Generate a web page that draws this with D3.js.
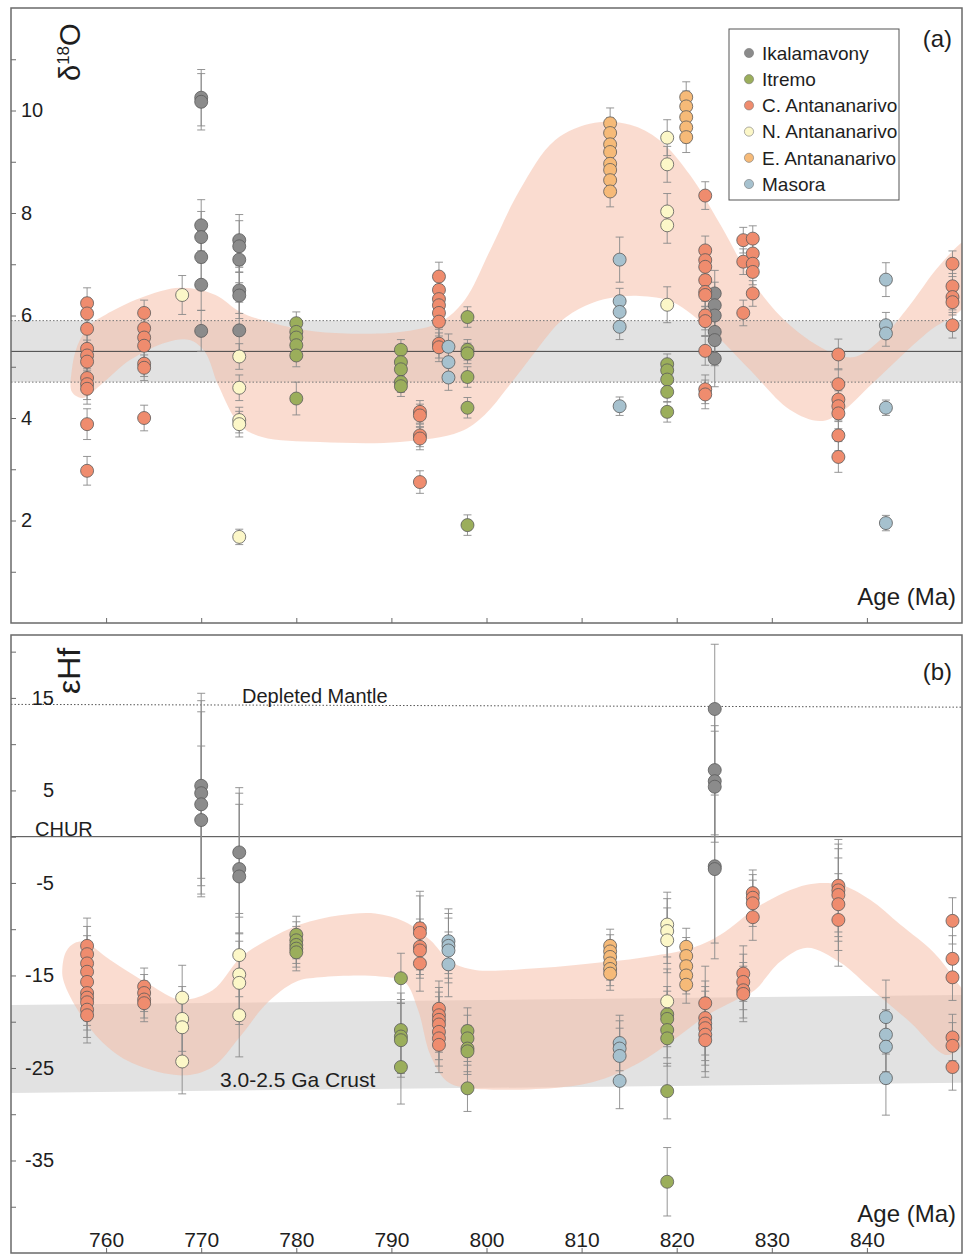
<!DOCTYPE html>
<html>
<head>
<meta charset="utf-8">
<script src="https://cdn.jsdelivr.net/npm/d3@7"></script>
<style>
  body { margin: 0; background: #fff; }
  svg text { font-family: "Liberation Sans", Arial, Helvetica, sans-serif; fill: #1e1e1e; }
</style>
</head>
<body>
<svg id="chart" width="965" height="1254"></svg>
<script>
// ---------- series ----------
const seriesNames  = ["Ikalamavony", "Itremo", "C. Antananarivo", "N. Antananarivo", "E. Antananarivo", "Masora"];
const seriesColors = ["#8b8b8b", "#9bae5b", "#ef8c6e", "#fcf7c8", "#f6ba78", "#a6c1ce"];

// ---------- panel (a): δ18O, rows are [age (Ma), δ18O, ± error] ----------
const ikalamavonyO = [
  [770, 10.25, 0.55], [770, 10.17, 0.55], [770, 7.76, 0.5], [770, 7.53, 0.5], [770, 7.14, 0.5], [770, 6.60, 0.5], [770, 5.70, 0.4],
  [774, 7.47, 0.5], [774, 7.35, 0.5], [774, 7.09, 0.45], [774, 6.49, 0.45], [774, 6.39, 0.45], [774, 5.71, 0.55],
  [824, 6.43, 0.45], [824, 6.20, 0.45], [824, 6.00, 0.45], [824, 5.68, 0.5], [824, 5.52, 0.5], [824, 5.16, 0.55]
];
const itremoO = [
  [780, 5.85, 0.22], [780, 5.68, 0.22], [780, 5.57, 0.22], [780, 5.42, 0.22], [780, 5.22, 0.22], [780, 4.38, 0.32],
  [791, 5.33, 0.2], [791, 5.09, 0.2], [791, 4.95, 0.2], [791, 4.70, 0.2], [791, 4.62, 0.2],
  [798, 5.97, 0.2], [798, 5.33, 0.2], [798, 5.26, 0.2], [798, 4.80, 0.2], [798, 4.20, 0.2], [798, 1.91, 0.2],
  [819, 5.05, 0.2], [819, 4.93, 0.2], [819, 4.75, 0.2], [819, 4.51, 0.2], [819, 4.12, 0.2]
];
const cAntananarivoO = [
  [758, 6.24, 0.3], [758, 6.04, 0.3], [758, 5.74, 0.3], [758, 5.35, 0.3], [758, 5.22, 0.3], [758, 5.10, 0.3],
  [758, 4.78, 0.3], [758, 4.66, 0.3], [758, 4.57, 0.3], [758, 3.88, 0.3], [758, 2.97, 0.28],
  [764, 6.05, 0.25], [764, 5.75, 0.25], [764, 5.57, 0.25], [764, 5.41, 0.25], [764, 5.06, 0.25], [764, 4.98, 0.25], [764, 4.00, 0.25],
  [793, 4.12, 0.22], [793, 4.05, 0.22], [793, 3.66, 0.22], [793, 3.60, 0.22], [793, 2.75, 0.22],
  [795, 6.76, 0.28], [795, 6.50, 0.28], [795, 6.32, 0.28], [795, 6.20, 0.28], [795, 6.05, 0.28], [795, 5.88, 0.28], [795, 5.45, 0.28], [795, 5.38, 0.28],
  [823, 8.34, 0.27], [823, 7.27, 0.28], [823, 7.08, 0.28], [823, 6.95, 0.28], [823, 6.69, 0.28], [823, 6.46, 0.28],
  [823, 6.40, 0.28], [823, 6.00, 0.28], [823, 5.89, 0.28], [823, 5.31, 0.28], [823, 4.56, 0.28], [823, 4.46, 0.28],
  [827, 7.47, 0.25], [827, 7.05, 0.25], [827, 6.05, 0.25],
  [828, 7.50, 0.25], [828, 7.21, 0.25], [828, 7.01, 0.25], [828, 6.85, 0.25], [828, 6.43, 0.25],
  [837, 5.24, 0.3], [837, 4.66, 0.3], [837, 4.36, 0.3], [837, 4.23, 0.3], [837, 4.09, 0.3], [837, 3.66, 0.3], [837, 3.24, 0.3],
  [849, 7.01, 0.25], [849, 6.57, 0.25], [849, 6.36, 0.25], [849, 6.26, 0.25], [849, 5.81, 0.25]
];
const nAntananarivoO = [
  [768, 6.40, 0.38],
  [774, 5.20, 0.25], [774, 4.59, 0.25], [774, 3.96, 0.25], [774, 3.88, 0.25], [774, 1.68, 0.15],
  [819, 9.47, 0.35], [819, 8.95, 0.35], [819, 8.03, 0.35], [819, 7.76, 0.35], [819, 6.21, 0.35]
];
const eAntananarivoO = [
  [813, 9.75, 0.3], [813, 9.56, 0.3], [813, 9.34, 0.3], [813, 9.19, 0.3], [813, 8.96, 0.3], [813, 8.84, 0.3], [813, 8.64, 0.3], [813, 8.42, 0.3],
  [821, 10.26, 0.3], [821, 10.08, 0.3], [821, 9.87, 0.3], [821, 9.67, 0.3], [821, 9.48, 0.3]
];
const masoraO = [
  [796, 5.39, 0.25], [796, 5.09, 0.25], [796, 4.79, 0.25],
  [814, 7.09, 0.44], [814, 6.28, 0.25], [814, 6.07, 0.25], [814, 5.78, 0.25], [814, 4.23, 0.18],
  [842, 6.70, 0.33], [842, 5.81, 0.25], [842, 5.65, 0.25], [842, 4.20, 0.15], [842, 1.95, 0.15]
];

// ---------- panel (b): εHf, rows are [age (Ma), εHf, ± error] ----------
const ikalamavonyHf = [
  [770, 5.5, 10], [770, 4.7, 10], [770, 3.5, 10], [770, 1.8, 8],
  [774, -1.7, 7], [774, -3.5, 7], [774, -4.3, 9],
  [824, 13.8, 7], [824, 7.2, 7], [824, 6.0, 6], [824, 5.4, 6], [824, -3.2, 10], [824, -3.5, 8]
];
const itremoHf = [
  [780, -10.6, 2], [780, -11.2, 2], [780, -11.7, 2], [780, -12.1, 2], [780, -12.5, 2],
  [791, -15.3, 2.7], [791, -20.9, 4], [791, -21.6, 4], [791, -22.0, 4], [791, -24.9, 4],
  [798, -21.0, 2.5], [798, -21.8, 2.5], [798, -22.9, 2.5], [798, -23.2, 2.5], [798, -27.2, 2.5],
  [819, -19.2, 3], [819, -19.7, 3], [819, -20.9, 3], [819, -21.8, 3], [819, -27.5, 3], [819, -37.3, 3.7]
];
const cAntananarivoHf = [
  [758, -11.8, 3], [758, -12.7, 3], [758, -13.7, 3], [758, -14.6, 3], [758, -15.7, 3],
  [758, -16.9, 3], [758, -17.4, 3], [758, -17.9, 3], [758, -18.7, 3], [758, -19.3, 3],
  [764, -16.2, 2], [764, -16.9, 2], [764, -17.6, 2], [764, -18.0, 2],
  [793, -9.9, 4], [793, -10.4, 4], [793, -11.9, 3], [793, -12.3, 3], [793, -13.7, 3],
  [795, -18.6, 3], [795, -19.3, 3], [795, -19.8, 3], [795, -20.3, 3], [795, -21.1, 3], [795, -21.8, 3], [795, -22.5, 3],
  [823, -18.0, 4], [823, -19.6, 4], [823, -20.2, 4], [823, -20.7, 4], [823, -21.4, 4], [823, -22.0, 4],
  [827, -14.8, 3], [827, -15.7, 3], [827, -16.6, 3], [827, -17.0, 3],
  [828, -6.1, 2.5], [828, -6.6, 2.5], [828, -7.2, 2.5], [828, -8.7, 2.5],
  [837, -5.3, 5], [837, -5.8, 5], [837, -6.3, 5], [837, -7.3, 5], [837, -9.0, 5],
  [849, -9.1, 2.5], [849, -13.2, 2.5], [849, -15.2, 2.5], [849, -21.7, 2.5], [849, -22.6, 2.5], [849, -24.9, 2.5]
];
const nAntananarivoHf = [
  [768, -17.4, 3.5], [768, -19.7, 3.5], [768, -20.6, 3.5], [768, -24.3, 3.5],
  [774, -12.8, 4.5], [774, -14.9, 4.5], [774, -15.8, 4.5], [774, -19.3, 4.5],
  [819, -9.5, 3.5], [819, -10.2, 3.5], [819, -11.2, 3.5], [819, -17.8, 3.5]
];
const eAntananarivoHf = [
  [813, -11.8, 1.8], [813, -12.4, 1.8], [813, -13.0, 1.8], [813, -13.7, 1.8], [813, -14.3, 1.8], [813, -14.8, 1.8],
  [821, -11.9, 2], [821, -12.9, 2], [821, -14.0, 2], [821, -15.0, 2], [821, -16.0, 2]
];
const masoraHf = [
  [796, -11.3, 3.5], [796, -11.8, 3.5], [796, -12.3, 3.5], [796, -13.8, 3.5],
  [814, -22.3, 3], [814, -22.9, 3], [814, -23.7, 3], [814, -26.4, 3],
  [842, -19.5, 4], [842, -21.4, 4], [842, -22.7, 4], [842, -26.1, 4]
];

// ---------- reference envelopes (age, value) ----------
const envelopeO = [
  [756.4, 4.94], [757.0, 5.42], [758.3, 5.81], [759.9, 6.01], [763.6, 6.34], [767.8, 6.54], [771.5, 6.40],
  [774.1, 6.07], [777.2, 5.87], [782.5, 5.68], [790.9, 5.68], [795.1, 5.87], [797.7, 6.30], [800.4, 7.28],
  [803.5, 8.45], [807.2, 9.42], [811.4, 9.76], [815.1, 9.72], [818.2, 9.42], [821.4, 8.74], [824.6, 7.77],
  [828.2, 6.60], [831.9, 5.81], [836.1, 5.29], [838.7, 5.19], [841.4, 5.52], [844.5, 6.20], [847.7, 6.99],
  [850.5, 7.45], [850.5, 6.25],
  [846.3, 5.66], [840.6, 4.68], [837.2, 4.10], [835.1, 3.94], [831.9, 4.16], [827.7, 4.94], [823.5, 5.72],
  [819.6, 6.26], [816.1, 6.38], [813.0, 6.34], [810.4, 6.19], [807.7, 5.87], [805.1, 5.29], [802.2, 4.59],
  [799.8, 4.06], [797.2, 3.73], [790.9, 3.53], [782.5, 3.53], [776.4, 3.63], [774.1, 3.86], [771.8, 4.64],
  [770.4, 5.29], [768.8, 5.52], [766.4, 5.48], [762.5, 5.13], [759.4, 4.64], [757.5, 4.39], [756.4, 4.51]
];
const envelopeHf = [
  [755.4, -14.2], [755.8, -12.4], [756.7, -11.5], [757.8, -11.4], [760.4, -13.3], [764.6, -16.0], [767.8, -17.6],
  [771.2, -16.6], [774.1, -13.1], [776.9, -11.2], [780.4, -9.5], [784.6, -8.5], [788.3, -8.3], [791.4, -9.2],
  [794.1, -11.2], [796.2, -13.5], [798.8, -14.4], [805.6, -14.2], [811.9, -13.6], [816.1, -13.1], [821.7, -12.0],
  [824.6, -10.6], [828.8, -7.4], [833.7, -5.2], [837.2, -5.2], [840.3, -6.8], [843.5, -9.5], [847.0, -12.5],
  [849.3, -15.5], [850.5, -17.5], [850.0, -22.5], [848.4, -23.6],
  [844.5, -20.0], [840.6, -16.6], [837.2, -13.6], [833.7, -12.0], [830.9, -13.5], [828.2, -16.6], [826.7, -17.4],
  [823.2, -19.3], [819.6, -22.0], [816.1, -24.4], [811.9, -26.3], [807.7, -27.1], [798.3, -27.2], [795.9, -26.5],
  [794.1, -23.6], [792.8, -18.7], [791.4, -15.7], [788.8, -15.1], [782.5, -15.2], [779.9, -15.7], [776.9, -18.0],
  [774.1, -21.6], [771.2, -24.9], [768.1, -25.8], [762.8, -24.5], [759.4, -22.0], [756.7, -18.2], [755.5, -15.5]
];
const mantleO = { mean: 5.3, low: 4.7, high: 5.9 };
const crustBand = [[750, -18.2], [850, -17.1], [850, -26.6], [750, -27.7]];
const depletedMantle = [[750, 14.3], [850, 14.0]];

// ---------- axes ----------
const ageDomain = [750, 850];
const ageTicks = [760, 770, 780, 790, 800, 810, 820, 830, 840];
const oDomain = [0, 12];
const oTicks = [1, 2, 3, 4, 5, 6, 7, 8, 9, 10, 11];
const hfDomain = [-45, 21.8];
const hfTicks = [20, 15, 10, 5, 0, -5, -10, -15, -20, -25, -30, -35, -40];
const hfLabels = [15, 5, -5, -15, -25, -35];

// ---------- drawing ----------
const svg = d3.select("#chart");
const left = 11, right = 962;
const frameColor = "#6a6a6a";
const errColor = "#8a8a8a";

function drawPoints(g, x, y, sets) {
  sets.forEach((rows, i) => {
    const s = g.append("g").attr("class", "series-" + i);
    const eb = s.append("g").attr("stroke", errColor).attr("stroke-width", 0.9).attr("fill", "none");
    rows.forEach(([a, v, e]) => {
      const cx = x(a);
      eb.append("line").attr("x1", cx).attr("x2", cx).attr("y1", y(v - e)).attr("y2", y(v + e));
      eb.append("line").attr("x1", cx - 4).attr("x2", cx + 4).attr("y1", y(v - e)).attr("y2", y(v - e));
      eb.append("line").attr("x1", cx - 4).attr("x2", cx + 4).attr("y1", y(v + e)).attr("y2", y(v + e));
    });
  });
  sets.forEach((rows, i) => {
    g.append("g").selectAll("circle").data(rows).join("circle")
      .attr("cx", d => x(d[0])).attr("cy", d => y(d[1])).attr("r", 6.5)
      .attr("fill", seriesColors[i]).attr("stroke", "#5a5a5a").attr("stroke-width", 0.8);
  });
}

function frame(top, bottom, id) {
  svg.append("clipPath").attr("id", id).append("rect")
    .attr("x", left).attr("y", top).attr("width", right - left).attr("height", bottom - top);
}

// ===== Panel (a) =====
{
  const top = 8, bottom = 623;
  const x = d3.scaleLinear().domain(ageDomain).range([left, right]);
  const y = d3.scaleLinear().domain(oDomain).range([bottom, top]);
  frame(top, bottom, "clipA");
  const g = svg.append("g").attr("clip-path", "url(#clipA)");

  g.append("rect").attr("x", left).attr("width", right - left)
    .attr("y", y(mantleO.high)).attr("height", y(mantleO.low) - y(mantleO.high)).attr("fill", "#e2e2e2");
  g.append("path").datum(envelopeO)
    .attr("d", d3.line().x(d => x(d[0])).y(d => y(d[1])).curve(d3.curveCatmullRomClosed.alpha(0.5)))
    .attr("fill", "#f6b9a1").attr("fill-opacity", 0.5);
  [mantleO.high, mantleO.low].forEach(v => {
    g.append("line").attr("x1", left).attr("x2", right).attr("y1", y(v)).attr("y2", y(v))
      .attr("stroke", "#777").attr("stroke-width", 1).attr("stroke-dasharray", "1.5,2");
  });
  g.append("line").attr("x1", left).attr("x2", right).attr("y1", y(mantleO.mean)).attr("y2", y(mantleO.mean))
    .attr("stroke", "#444").attr("stroke-width", 1);

  drawPoints(g, x, y, [ikalamavonyO, itremoO, cAntananarivoO, nAntananarivoO, eAntananarivoO, masoraO]);

  const ya = svg.append("g").attr("transform", `translate(${left},0)`)
    .call(d3.axisRight(y).tickValues(oTicks).tickSize(5).tickPadding(5)
      .tickFormat(d => d % 2 === 0 ? d : ""));
  ya.select(".domain").remove();
  ya.selectAll("line").attr("stroke", frameColor);
  ya.selectAll("text").attr("font-size", 20).attr("fill", "#1e1e1e").style("font-family", null);

  const xa = svg.append("g").attr("transform", `translate(0,${bottom})`)
    .call(d3.axisTop(x).tickValues(ageTicks).tickSize(5).tickFormat(""));
  xa.select(".domain").remove();
  xa.selectAll("line").attr("stroke", frameColor);

  svg.append("rect").attr("x", left).attr("y", top).attr("width", right - left).attr("height", bottom - top)
    .attr("fill", "none").attr("stroke", frameColor).attr("stroke-width", 1.5);

  // axis title δ18O
  const t = svg.append("text").attr("transform", "translate(80,81) rotate(-90)").attr("font-size", 29);
  t.append("tspan").text("δ");
  t.append("tspan").attr("font-size", 17).attr("dy", -11).text("18");
  t.append("tspan").attr("dy", 11).text("O");

  svg.append("text").attr("x", 952).attr("y", 47).attr("text-anchor", "end").attr("font-size", 24).text("(a)");
  svg.append("text").attr("x", 956).attr("y", 605).attr("text-anchor", "end").attr("font-size", 24).text("Age (Ma)");

  // legend
  const lg = svg.append("g");
  lg.append("rect").attr("x", 729).attr("y", 29).attr("width", 170).attr("height", 171)
    .attr("fill", "#fff").attr("stroke", "#555").attr("stroke-width", 1);
  seriesNames.forEach((n, i) => {
    const cy = 53 + i * 26.2;
    lg.append("circle").attr("cx", 749).attr("cy", cy).attr("r", 4.6)
      .attr("fill", seriesColors[i]).attr("stroke", "#777").attr("stroke-width", 0.6);
    lg.append("text").attr("x", 762).attr("y", cy + 6.8).attr("font-size", 19).text(n);
  });
}

// ===== Panel (b) =====
{
  const top = 635, bottom = 1253;
  const x = d3.scaleLinear().domain(ageDomain).range([left, right]);
  const y = d3.scaleLinear().domain(hfDomain).range([bottom, top]);
  frame(top, bottom, "clipB");
  const g = svg.append("g").attr("clip-path", "url(#clipB)");
  const line = d3.line().x(d => x(d[0])).y(d => y(d[1]));

  g.append("path").datum(crustBand).attr("d", line.curve(d3.curveLinearClosed)).attr("fill", "#e2e2e2");
  g.append("path").datum(envelopeHf)
    .attr("d", d3.line().x(d => x(d[0])).y(d => y(d[1])).curve(d3.curveCatmullRomClosed.alpha(0.5)))
    .attr("fill", "#f6b9a1").attr("fill-opacity", 0.5);
  g.append("path").datum(depletedMantle).attr("d", d3.line().x(d => x(d[0])).y(d => y(d[1])))
    .attr("stroke", "#555").attr("stroke-width", 1).attr("stroke-dasharray", "1.5,2").attr("fill", "none");
  g.append("line").attr("x1", left).attr("x2", right).attr("y1", y(0)).attr("y2", y(0))
    .attr("stroke", "#444").attr("stroke-width", 1);

  drawPoints(g, x, y, [ikalamavonyHf, itremoHf, cAntananarivoHf, nAntananarivoHf, eAntananarivoHf, masoraHf]);

  const ya = svg.append("g").attr("transform", `translate(${left},0)`)
    .call(d3.axisRight(y).tickValues(hfTicks).tickSize(5)
      .tickFormat(d => hfLabels.includes(d) ? d : ""));
  ya.select(".domain").remove();
  ya.selectAll("line").attr("stroke", frameColor);
  ya.selectAll("text").attr("x", 43).attr("text-anchor", "end").attr("font-size", 20)
    .attr("fill", "#1e1e1e").style("font-family", null);

  const xa = svg.append("g").attr("transform", `translate(0,${bottom})`)
    .call(d3.axisTop(x).tickValues(ageTicks).tickSize(5).tickPadding(1));
  xa.select(".domain").remove();
  xa.selectAll("line").attr("stroke", frameColor);
  xa.selectAll("text").attr("font-size", 21).attr("fill", "#1e1e1e").style("font-family", null);

  svg.append("rect").attr("x", left).attr("y", top).attr("width", right - left).attr("height", bottom - top)
    .attr("fill", "none").attr("stroke", frameColor).attr("stroke-width", 1.5);

  svg.append("text").attr("x", 242).attr("y", y(depletedMantle[0][1]) - 1).attr("font-size", 20).text("Depleted Mantle");
  svg.append("text").attr("x", 35).attr("y", y(0) - 1).attr("font-size", 20).text("CHUR");
  svg.append("text").attr("x", 220).attr("y", 1087).attr("font-size", 21).text("3.0-2.5 Ga Crust");

  svg.append("text").attr("transform", "translate(80,694) rotate(-90)").attr("font-size", 32).text("εHf");
  svg.append("text").attr("x", 952).attr("y", 680).attr("text-anchor", "end").attr("font-size", 24).text("(b)");
  svg.append("text").attr("x", 956).attr("y", 1222).attr("text-anchor", "end").attr("font-size", 24).text("Age (Ma)");
}
</script>
</body>
</html>
